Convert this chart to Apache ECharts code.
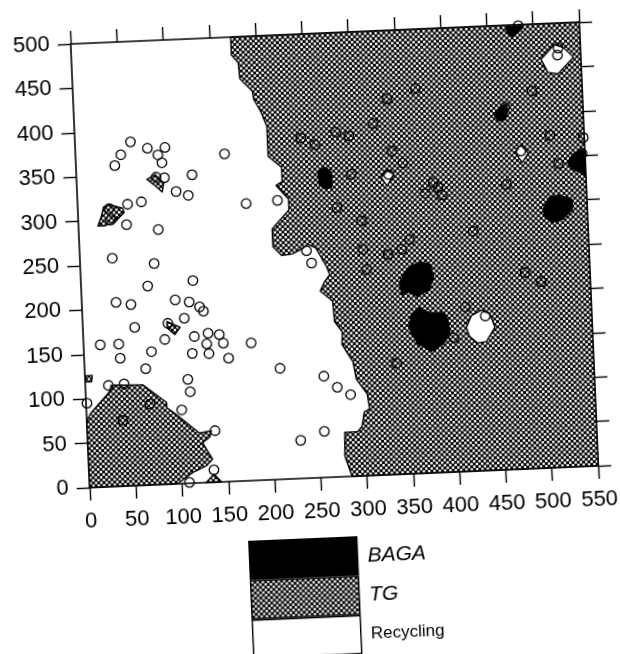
<!DOCTYPE html>
<html>
<head>
<meta charset="utf-8">
<script src="https://cdn.jsdelivr.net/npm/echarts@6/dist/echarts.min.js"></script>
<style>
html,body{margin:0;padding:0;background:#fff;overflow:hidden;width:620px;height:654px}
#chart{width:620px;height:720px;transform:rotate(-2.45deg);transform-origin:310px 327px}
</style>
</head>
<body>
<div id="chart"></div>
<script>
const xTicks = [0,50,100,150,200,250,300,350,400,450,500,550];
const yTicks = [0,50,100,150,200,250,300,350,400,450,500];

const tgRegions = [
  [[173,500],[173,480],[180,471],[181,453],[194,438],[195,429],[202,415],[208,398],[208,364],[222,351],[222,335],[215,331],[228,315],[228,303],[209,282],[209,262],[218,252],[229,253],[240,258],[247,263],[255,259],[266,237],[269,228],[263,220],[258,210],[271,198],[272,175],[280,163],[279,149],[285,138],[290,129],[293,109],[304,92],[306,75],[300,72],[297,56],[292,50],[278,50],[277,23],[284,0],[550,0],[550,500]],
  [[0,75],[5,84],[26,107],[28,114],[62,113],[87,92],[87,86],[97,78],[121,56],[134,58],[132,51],[124,45],[134,26],[127,19],[112,12],[95,0],[0,0]],
  [[126,0],[135,9],[142,1],[142,0]],
  [[28,315],[35,317],[48,313],[50,308],[40,298],[29,294],[21,294],[25,304]],
  [[76,344],[85,349],[94,339],[92,329],[83,338]],
  [[91,183],[105,176],[99,168],[91,176]],
  [[1,126],[8,126],[7,119],[1,119]]
];
const bagaRegions = [
  [[261,345],[269,349],[275,344],[276,335],[275,326],[268,325],[262,329]],
  [[470,498],[489,498],[484,492],[477,487],[472,492]],
  [[453,401],[461,408],[466,411],[469,405],[466,394],[458,393]],
  [[531,343],[537,352],[545,356],[550,355],[550,326],[544,331],[535,336]],
  [[502,291],[510,305],[521,306],[534,301],[534,290],[523,279],[512,276],[504,282]],
  [[344,216],[354,232],[367,238],[378,235],[381,221],[376,207],[363,199],[355,205],[346,202]],
  [[352,166],[356,180],[364,187],[375,180],[391,180],[395,169],[396,155],[388,144],[375,137],[361,146],[355,157]]
];
const recyclingRegions = [
  [[414,162],[420,175],[431,181],[440,176],[445,161],[435,145],[425,144],[417,152]],
  [[507,460],[522,476],[532,472],[542,461],[525,443],[514,445]],
  [[475,356],[481,365],[489,355],[482,345]],
  [[329,335],[336,342],[343,338],[335,325]]
];
const samplePoints = [
  [60,387],[78,379],[97,379],[89,371],[49,373],[42,361],[93,362],[161,369],[125,347],[95,345],[86,346],[107,329],[120,324],[69,319],[54,317],[34,313],[182,312],[216,314],[52,294],[86,287],[35,300],[35,257],[80,249],[121,228],[72,224],[101,207],[116,204],[127,198],[131,193],[37,207],[53,204],[110,186],[56,178],[92,181],[88,163],[120,165],[135,168],[147,166],[133,156],[151,156],[18,160],[38,160],[39,144],[73,150],[117,146],[135,145],[156,139],[181,155],[211,125],[66,131],[111,117],[113,103],[258,114],[272,101],[286,92],[25,114],[42,115],[1,95],[103,83],[138,58],[256,52],[230,43],[135,14],[108,1],[69,91],[39,74],[250,242],[245,256],
  [244,383],[259,375],[282,388],[296,383],[370,433],[339,423],[323,396],[496,425],[466,408],[513,374],[549,370],[481,358],[521,342],[547,352],[337,338],[353,350],[342,364],[297,340],[385,327],[390,321],[376,315],[394,312],[464,321],[280,303],[306,287],[426,270],[357,264],[484,499],[526,472],[525,464],[306,255],[333,248],[309,232],[348,253],[480,221],[497,210],[414,185],[435,174],[400,151],[337,125]
];

function hatchPattern() {
  const c = document.createElement('canvas');
  c.width = 16; c.height = 16;
  const g = c.getContext('2d');
  g.fillStyle = '#000';
  g.fillRect(0, 0, 16, 16);
  g.fillStyle = '#ffffff';
  const p = 16 / 3;
  for (let i = -1; i < 5; i++) for (let j = -1; j < 5; j++) {
    g.fillRect(i * p + 0.4, j * p + 0.4, 2.4, 2.4);
    g.fillRect(i * p + p / 2 + 0.4, j * p + p / 2 + 0.4, 2.4, 2.4);
  }
  return { image: c, repeat: 'repeat' };
}

function regionSeries(name, regions, fill, z) {
  return {
    name, type: 'custom', coordinateSystem: 'cartesian2d', z, clip: false,
    itemStyle: { color: fill, borderColor: '#000', borderWidth: 1.4 },
    encode: { x: 0, y: 1 },
    data: regions.map((r, i) => [r[0][0], r[0][1], i]),
    renderItem(params, api) {
      const poly = regions[api.value(2)];
      return {
        type: 'polygon',
        shape: { points: poly.map(p => api.coord(p)) },
        style: { fill, stroke: '#000', lineWidth: 1.4, lineJoin: 'round' }
      };
    }
  };
}

const axisBase = {
  type: 'value',
  axisLine: { show: true, onZero: false, lineStyle: { color: '#000', width: 1.6 } },
  axisTick: { show: true, length: 13, inside: false, lineStyle: { color: '#000', width: 1.4 } },
  splitLine: { show: false }
};
const labelStyle = { color: '#000', fontFamily: 'Liberation Sans', fontSize: 22 };

const chart = echarts.init(document.getElementById('chart'), null, { renderer: 'canvas' });
const pat = hatchPattern();
chart.setOption({
  animation: false,
  backgroundColor: '#fff',
  grid: { left: 83, top: 34, width: 509, height: 444, containLabel: false },
  xAxis: [
    { ...axisBase, position: 'bottom', min: 0, max: 550, interval: 50,
      axisLabel: { ...labelStyle, margin: 23, hideOverlap: false, showMinLabel: true, showMaxLabel: true } },
    { ...axisBase, position: 'top', min: 0, max: 550, interval: 50, axisLabel: { show: false } }
  ],
  yAxis: [
    { ...axisBase, position: 'left', min: 0, max: 500, interval: 50,
      axisLabel: { ...labelStyle, margin: 21, showMinLabel: true, showMaxLabel: true } },
    { ...axisBase, position: 'right', min: 0, max: 500, interval: 50, axisLabel: { show: false } }
  ],
  legend: {
    orient: 'vertical', left: 239, top: 538, padding: 0, height: 170,
    itemWidth: 108, itemHeight: 38, itemGap: 0, itemStyle: { borderColor: '#000', borderWidth: 1.4 },
    selectedMode: false,
    textStyle: { color: '#000', fontFamily: 'Liberation Sans', fontSize: 17, padding: [0, 0, 0, 5] },
    data: [
      { name: 'BAGA', icon: 'rect', textStyle: { fontStyle: 'italic', fontSize: 21 } },
      { name: 'TG', icon: 'rect', textStyle: { fontStyle: 'italic', fontSize: 21 } },
      { name: 'Recycling', icon: 'rect' }
    ]
  },
  series: [
    regionSeries('TG', tgRegions, pat, 2),
    regionSeries('BAGA', bagaRegions, '#000', 3),
    regionSeries('Recycling', recyclingRegions, '#fff', 4),
    {
      name: 'Samples', type: 'scatter', z: 5, symbol: 'circle', symbolSize: 9.5,
      itemStyle: { color: 'rgba(0,0,0,0)', borderColor: '#000', borderWidth: 1.3, opacity: 1 },
      data: samplePoints, clip: false, silent: true
    }
  ]
});
</script>
</body>
</html>
